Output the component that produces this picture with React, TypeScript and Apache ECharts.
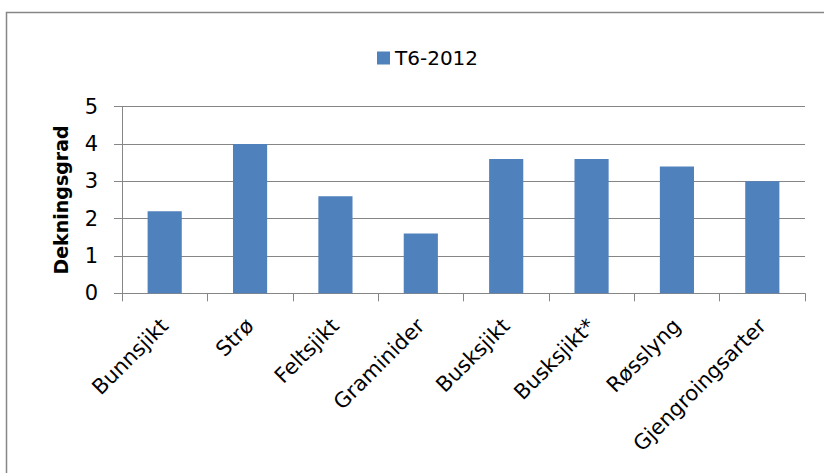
import React, { useEffect, useRef } from "react";
import * as echarts from "echarts";

// Dekningsgrad per vegetasjonssjikt, flate T6 (2012)
const categories = [
  "Bunnsjikt",
  "Strø",
  "Feltsjikt",
  "Graminider",
  "Busksjikt",
  "Busksjikt*",
  "Røsslyng",
  "Gjengroingsarter",
];
const seriesName = "T6-2012";
const values = [2.2, 4.0, 2.6, 1.6, 3.6, 3.6, 3.4, 3.0];
const yTicks = { min: 0, max: 5, interval: 1 };

const FONT = "DejaVu Sans";
const GRAY = "#868686";
const BLUE = "#4F81BD";

export default function App() {
  const ref = useRef<HTMLDivElement>(null);

  useEffect(() => {
    if (!ref.current) return;
    const chart = echarts.init(ref.current, null, { renderer: "svg" });
    chart.setOption({
      animation: false,
      backgroundColor: "#ffffff",
      textStyle: { fontFamily: FONT },
      graphic: [
        {
          type: "rect",
          shape: { x: 6.5, y: 12.5, width: 840, height: 480 },
          style: { fill: "none", stroke: GRAY, lineWidth: 1.5 },
          silent: true,
        },
      ],
      legend: {
        left: 372,
        top: 43,
        itemWidth: 13,
        itemHeight: 13,
        itemGap: 5,
        icon: "rect",
        textStyle: { fontFamily: FONT, fontSize: 20, color: "#000" },
        data: [seriesName],
      },
      grid: { left: 122, right: 19, top: 106.7, bottom: 179.7, containLabel: false },
      xAxis: {
        type: "category",
        data: categories,
        axisLine: { show: true, lineStyle: { color: GRAY, width: 1 } },
        axisTick: { show: true, length: 8, alignWithLabel: false, lineStyle: { color: GRAY } },
        axisLabel: {
          rotate: 45,
          margin: 29,
          interval: 0,
          fontFamily: FONT,
          fontSize: 21,
          color: "#000",
        },
      },
      yAxis: {
        type: "value",
        min: yTicks.min,
        max: yTicks.max,
        interval: yTicks.interval,
        name: "Dekningsgrad",
        nameLocation: "middle",
        nameGap: 52,
        nameRotate: 90,
        nameTextStyle: { fontFamily: FONT, fontSize: 19, fontWeight: "bold", color: "#000" },
        axisLine: { show: true, lineStyle: { color: GRAY, width: 1 } },
        axisTick: { show: true, length: 8, lineStyle: { color: GRAY } },
        axisLabel: { margin: 24, fontFamily: FONT, fontSize: 21, color: "#000" },
        splitLine: { show: true, lineStyle: { color: GRAY, width: 1 } },
      },
      series: [
        {
          name: seriesName,
          type: "bar",
          data: values,
          barWidth: "40%",
          itemStyle: { color: BLUE },
        },
      ],
    });
    return () => chart.dispose();
  }, []);

  return (
    <div
      ref={ref}
      style={{ position: "fixed", left: 0, top: 0, width: 824, height: 473 }}
    />
  );
}
